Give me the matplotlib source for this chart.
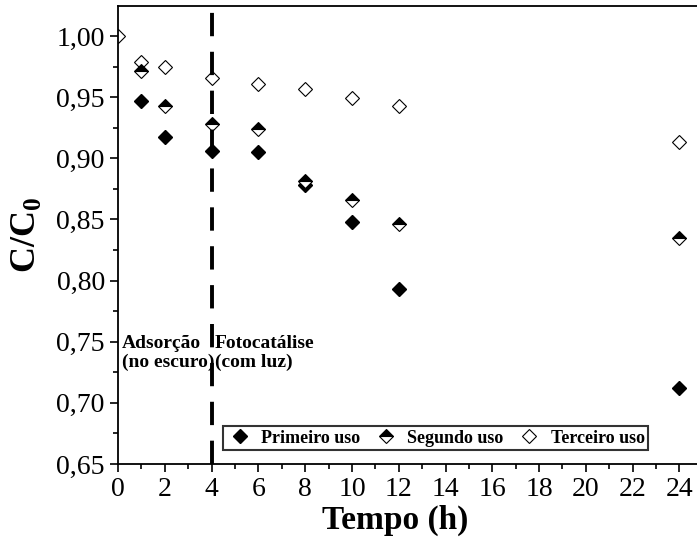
import matplotlib
matplotlib.use("Agg")
import matplotlib.pyplot as plt
from matplotlib.ticker import MultipleLocator, FuncFormatter

# dados
tempo = [0, 1, 2, 4, 6, 8, 10, 12, 24]
primeiro = [1.000, 0.947, 0.917, 0.906, 0.905, 0.878, 0.848, 0.793, 0.712]
segundo = [1.000, 0.971, 0.943, 0.928, 0.924, 0.881, 0.866, 0.846, 0.835]
terceiro = [1.000, 0.979, 0.975, 0.966, 0.961, 0.957, 0.949, 0.943, 0.913]

x_ticks = list(range(0, 25, 2))
legend_labels = ["Primeiro uso", "Segundo uso", "Terceiro uso"]

plt.rcParams['font.family'] = ['Liberation Serif', 'DejaVu Serif']
plt.rcParams['mathtext.fontset'] = 'custom'
plt.rcParams['mathtext.rm'] = 'Liberation Serif'
plt.rcParams['mathtext.bf'] = 'Liberation Serif:bold'

fig = plt.figure(figsize=(6.97, 5.44), dpi=100)
ax = fig.add_axes([0.1693, 0.147, 0.8307, 0.842])

ms = 7
ax.plot(tempo[1:], primeiro[1:], linestyle='none', marker='D', ms=ms,
        color='black', label=legend_labels[0])
ax.plot(tempo[1:], segundo[1:], linestyle='none', marker='D', ms=ms,
        fillstyle='top', markerfacecolor='black', markerfacecoloralt='white',
        markeredgecolor='black', markeredgewidth=0.8, label=legend_labels[1])
ax.plot(tempo, terceiro, linestyle='none', marker='D', ms=ms,
        markerfacecolor='white', markeredgecolor='black', markeredgewidth=0.8,
        label=legend_labels[2], zorder=1)

ax.axvline(4, color='black', lw=2.8, linestyle=(0, (6, 4)))

ax.text(0.18, 0.741, "Adsorção\n(no escuro)", fontsize=14, fontweight='bold',
        ha='left', va='center', linespacing=1.1)
ax.text(4.15, 0.741, "Fotocatálise\n(com luz)", fontsize=14, fontweight='bold',
        ha='left', va='center', linespacing=1.1)

ax.set_xlim(0, 24.75)
ax.set_ylim(0.65, 1.0245)
ax.set_xticks(x_ticks)
ax.xaxis.set_minor_locator(MultipleLocator(1))
ax.yaxis.set_major_locator(MultipleLocator(0.05))
ax.yaxis.set_minor_locator(MultipleLocator(0.025))
ax.yaxis.set_major_formatter(FuncFormatter(lambda v, p: f"{v:.2f}".replace('.', ',')))

ax.tick_params(which='major', direction='out', length=6, width=1.2, labelsize=20)
ax.tick_params(which='minor', direction='out', length=3.5, width=1.2)
ax.tick_params(top=False, right=False)
for s in ['left', 'bottom', 'top']:
    ax.spines[s].set_linewidth(1.3)
ax.spines['right'].set_visible(False)

ax.set_xlabel("Tempo (h)", fontsize=24, fontweight='bold')
ax.xaxis.set_label_coords(0.478, -0.088)
ax.set_ylabel(r"$\mathbf{C/C}_{\mathbf{0}}$", fontsize=26)
ax.yaxis.set_label_coords(-0.13, 0.5)

leg = ax.legend(loc='lower left', bbox_to_anchor=(0.182, 0.03), ncol=3,
                prop={'weight': 'bold', 'size': 13}, frameon=True, fancybox=False,
                edgecolor='black', handletextpad=0.5, columnspacing=0.7,
                borderpad=0.2, handlelength=1.4, borderaxespad=0)
leg.get_frame().set_linewidth(1.5)

fig.savefig("out.png", dpi=100)
